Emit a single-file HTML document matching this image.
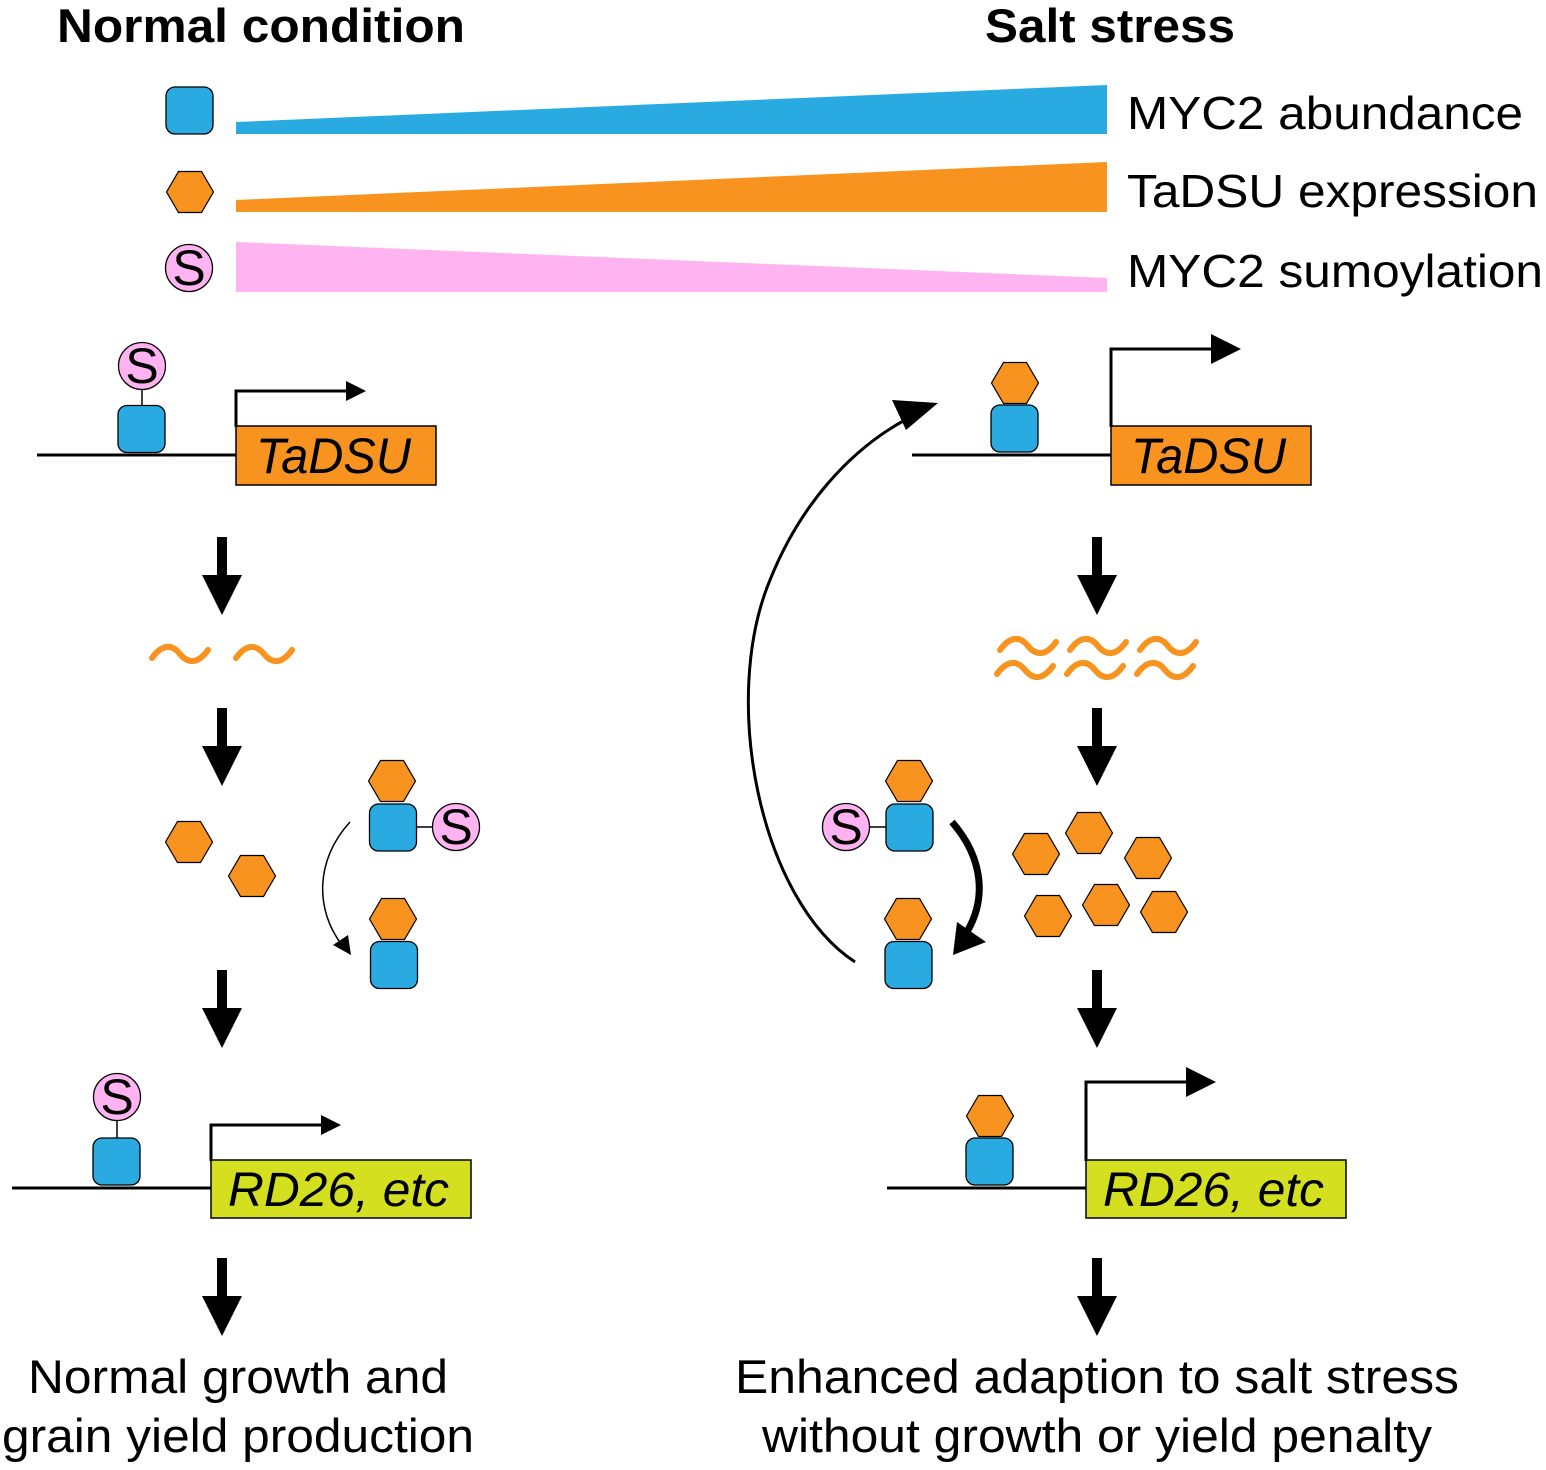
<!DOCTYPE html>
<html><head><meta charset="utf-8"><style>html,body{margin:0;padding:0;background:#fff}svg{display:block}text{font-family:"Liberation Sans",Arial,sans-serif}</style></head>
<body>
<svg width="1546" height="1470" viewBox="0 0 1546 1470" xmlns="http://www.w3.org/2000/svg">
<defs>
<rect id="sq" x="-23.5" y="-23.5" width="47" height="47" rx="9" fill="#29abe2" stroke="#000" stroke-width="1.3"/>
<polygon id="hx" points="-23.5,0 -11.5,-20.5 11.5,-20.5 23.5,0 11.5,20.5 -11.5,20.5" fill="#f7931e" stroke="#000" stroke-width="1.2"/>
<circle id="sc" r="23.5" fill="#ffb3f0" stroke="#000" stroke-width="1.3"/>
<polygon id="dn" points="-5,0 5,0 5,38 20,38 0,78 -20,38 -5,38" fill="#000"/>
<path id="wv" d="M0,8 C10,-6 20,-6 28,4 C36,14 46,14 56,0" fill="none" stroke="#f7931e" stroke-width="6" stroke-linecap="round"/>
</defs>

<text x="57" y="42" font-size="47" font-weight="bold" textLength="408" lengthAdjust="spacingAndGlyphs">Normal condition</text>
<text x="985" y="42" font-size="47" font-weight="bold" textLength="250" lengthAdjust="spacingAndGlyphs">Salt stress</text>

<use href="#sq" x="189.5" y="110.5"/>
<use href="#hx" x="190" y="192"/>
<use href="#sc" x="189" y="268"/>
<text x="189" y="285" font-size="50" text-anchor="middle">S</text>
<polygon points="236,122 1107,85 1107,134 236,134" fill="#29abe2"/>
<polygon points="236,200 1107,162 1107,212 236,212" fill="#f7931e"/>
<polygon points="236,242 1107,278 1107,292 236,292" fill="#ffb3f0"/>
<text x="1127" y="129" font-size="46" textLength="396" lengthAdjust="spacingAndGlyphs">MYC2 abundance</text>
<text x="1127" y="207" font-size="46" textLength="411" lengthAdjust="spacingAndGlyphs">TaDSU expression</text>
<text x="1127" y="287" font-size="46" textLength="416" lengthAdjust="spacingAndGlyphs">MYC2 sumoylation</text>

<line x1="37" y1="455" x2="236" y2="455" stroke="#000" stroke-width="3"/>
<rect x="236" y="426" width="200" height="59" fill="#f7931e" stroke="#000" stroke-width="1.5"/>
<text x="256" y="473" font-size="50" font-style="italic" textLength="155" lengthAdjust="spacingAndGlyphs">TaDSU</text>
<polyline points="236,427 236,391 348,391" fill="none" stroke="#000" stroke-width="3"/>
<polygon points="346,381 366,391 346,401" fill="#000"/>
<line x1="142" y1="388" x2="142" y2="406" stroke="#000" stroke-width="1.5"/>
<use href="#sq" x="141.5" y="429"/>
<use href="#sc" x="142" y="366"/>
<text x="142" y="383" font-size="50" text-anchor="middle">S</text>

<use href="#dn" x="222" y="537"/>
<use href="#wv" x="152" y="650"/>
<use href="#wv" x="236" y="650"/>
<use href="#dn" x="222" y="708"/>
<use href="#hx" x="189" y="842"/>
<use href="#hx" x="252" y="876"/>
<line x1="416" y1="827" x2="434" y2="827" stroke="#000" stroke-width="1.5"/>
<use href="#hx" x="392" y="781"/>
<use href="#sq" x="393" y="827.5"/>
<use href="#sc" x="456" y="827"/>
<text x="456" y="844" font-size="50" text-anchor="middle">S</text>
<path d="M350,822 C315,860 315,910 342,945" fill="none" stroke="#000" stroke-width="1.5"/>
<polygon points="333,945 351,955 348,935" fill="#000"/>
<use href="#hx" x="393" y="919"/>
<use href="#sq" x="394" y="965"/>
<use href="#dn" x="222" y="970"/>

<line x1="12" y1="1188" x2="211" y2="1188" stroke="#000" stroke-width="3"/>
<rect x="211" y="1160" width="260" height="58" fill="#d4e01f" stroke="#000" stroke-width="1.5"/>
<text x="228" y="1206" font-size="48" font-style="italic" textLength="221" lengthAdjust="spacingAndGlyphs">RD26, etc</text>
<polyline points="211,1161 211,1125 323,1125" fill="none" stroke="#000" stroke-width="3"/>
<polygon points="321,1115 341,1125 321,1135" fill="#000"/>
<line x1="117" y1="1118" x2="117" y2="1140" stroke="#000" stroke-width="1.5"/>
<use href="#sq" x="116.5" y="1161.5"/>
<use href="#sc" x="117" y="1097"/>
<text x="117" y="1114" font-size="50" text-anchor="middle">S</text>
<use href="#dn" x="222" y="1258"/>
<text x="28" y="1393" font-size="47" textLength="420" lengthAdjust="spacingAndGlyphs">Normal growth and</text>
<text x="2" y="1452" font-size="47" textLength="472" lengthAdjust="spacingAndGlyphs">grain yield production</text>

<line x1="912" y1="455" x2="1111" y2="455" stroke="#000" stroke-width="3"/>
<rect x="1111" y="426" width="200" height="59" fill="#f7931e" stroke="#000" stroke-width="1.5"/>
<text x="1131" y="473" font-size="50" font-style="italic" textLength="155" lengthAdjust="spacingAndGlyphs">TaDSU</text>
<polyline points="1111,427 1111,349 1214,349" fill="none" stroke="#000" stroke-width="3"/>
<polygon points="1211,334 1241,349 1211,364" fill="#000"/>
<use href="#hx" x="1015" y="383"/>
<use href="#sq" x="1014.5" y="428.5"/>

<use href="#dn" x="1097" y="537"/>
<use href="#wv" x="1000" y="642"/>
<use href="#wv" x="1070" y="642"/>
<use href="#wv" x="1140" y="642"/>
<use href="#wv" x="997" y="666"/>
<use href="#wv" x="1067" y="666"/>
<use href="#wv" x="1137" y="666"/>
<use href="#dn" x="1097" y="708"/>

<line x1="868" y1="827" x2="886" y2="827" stroke="#000" stroke-width="1.5"/>
<use href="#hx" x="909" y="781"/>
<use href="#sq" x="909.5" y="827.5"/>
<use href="#sc" x="846" y="827"/>
<text x="846" y="844" font-size="50" text-anchor="middle">S</text>
<use href="#hx" x="908" y="919"/>
<use href="#sq" x="908.5" y="965"/>
<path d="M952,822 C985,860 985,900 968,930" fill="none" stroke="#000" stroke-width="7"/>
<polygon points="953,955 986,942 957,922" fill="#000"/>

<use href="#hx" x="1036" y="854"/>
<use href="#hx" x="1089" y="833"/>
<use href="#hx" x="1148" y="858"/>
<use href="#hx" x="1048" y="916"/>
<use href="#hx" x="1106" y="905"/>
<use href="#hx" x="1164" y="912"/>

<path d="M855,962 C760,900 720,700 770,580 C800,505 850,450 905,420" fill="none" stroke="#000" stroke-width="3"/>
<polygon points="938,403 892,400 906,430" fill="#000"/>

<use href="#dn" x="1097" y="970"/>

<line x1="887" y1="1188" x2="1086" y2="1188" stroke="#000" stroke-width="3"/>
<rect x="1086" y="1160" width="260" height="58" fill="#d4e01f" stroke="#000" stroke-width="1.5"/>
<text x="1103" y="1206" font-size="48" font-style="italic" textLength="221" lengthAdjust="spacingAndGlyphs">RD26, etc</text>
<polyline points="1086,1161 1086,1082 1189,1082" fill="none" stroke="#000" stroke-width="3"/>
<polygon points="1186,1067 1216,1082 1186,1097" fill="#000"/>
<use href="#hx" x="990" y="1116"/>
<use href="#sq" x="989.5" y="1161.5"/>
<use href="#dn" x="1097" y="1258"/>
<text x="735" y="1393" font-size="47" textLength="724" lengthAdjust="spacingAndGlyphs">Enhanced adaption to salt stress</text>
<text x="762" y="1452" font-size="47" textLength="670" lengthAdjust="spacingAndGlyphs">without growth or yield penalty</text>
</svg>
</body></html>
